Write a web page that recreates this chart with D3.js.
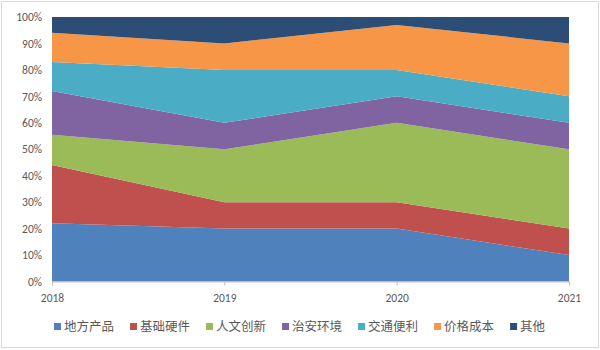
<!DOCTYPE html>
<html>
<head>
<meta charset="utf-8">
<script src="https://cdn.jsdelivr.net/npm/d3@7"></script>
<style>
  html, body { margin: 0; padding: 0; background: #fff; }
  svg { display: block; }
</style>
</head>
<body>
<svg id="chart" width="600" height="350"></svg>
<script>
// Years along the x axis
const years = ["2018", "2019", "2020", "2021"];
// Series names (stack order, bottom to top)
const seriesNames = ["地方产品", "基础硬件", "人文创新", "治安环境", "交通便利", "价格成本", "其他"];
// Share (%) of each series per year
const localProducts = [22, 20, 20, 10];
const infrastructure = [22, 10, 10, 10];
const cultureInnovation = [11.5, 20, 30, 30];
const publicSafety = [16.5, 10, 10, 10];
const transport = [11, 20, 10, 10];
const priceCost = [11, 10, 17, 20];
const others = [6, 10, 3, 10];
const seriesValues = [localProducts, infrastructure, cultureInnovation, publicSafety, transport, priceCost, others];
// Y axis tick values
const yTicks = [0, 10, 20, 30, 40, 50, 60, 70, 80, 90, 100];

const colors = ["#4F81BD", "#C0504D", "#9BBB59", "#8064A2", "#4BACC6", "#F79646", "#2C4D75"];

const svg = d3.select("#chart");
const W = 600, H = 350;
const margin = { left: 52, right: 31, top: 17, bottom: 68 };

// Outer chart frame
svg.append("rect")
  .attr("x", 1.5).attr("y", 1.5)
  .attr("width", W - 3).attr("height", H - 4)
  .attr("fill", "#fff").attr("stroke", "#d9d9d9");

const rows = years.map((y, i) => {
  const r = { year: y };
  seriesNames.forEach((s, k) => { r[s] = seriesValues[k][i]; });
  return r;
});

const x = d3.scalePoint().domain(years).range([margin.left, W - margin.right]);
const y = d3.scaleLinear().domain([0, 100]).range([H - margin.bottom - 0.5, margin.top]);

const stack = d3.stack().keys(seriesNames);
const layers = stack(rows);

const area = d3.area()
  .x(d => x(d.data.year))
  .y0(d => y(d[0]))
  .y1(d => y(d[1]));

svg.append("g").selectAll("path")
  .data(layers)
  .join("path")
  .attr("d", area)
  .attr("fill", (d, i) => colors[i]);

// Y axis labels
const yAxis = d3.axisLeft(y).tickValues(yTicks).tickFormat(d => d + "%").tickSize(0).tickPadding(10);
const gy = svg.append("g").attr("transform", `translate(${margin.left},0)`).call(yAxis);
gy.select(".domain").remove();
gy.selectAll("text")
  .attr("font-family", "Calibri, Carlito, 'Liberation Sans', sans-serif")
  .attr("font-size", 11.5).attr("fill", "#595959");

// X axis
const xAxis = d3.axisBottom(x).tickSize(4).tickPadding(8);
const gx = svg.append("g").attr("transform", `translate(0,${y(0)})`).call(xAxis);
gx.select(".domain").attr("stroke", "#bfbfbf");
gx.selectAll(".tick line").attr("stroke", "#bfbfbf");
gx.selectAll("text")
  .attr("font-family", "Calibri, Carlito, 'Liberation Sans', sans-serif")
  .attr("font-size", 11.5).attr("fill", "#595959");

// Legend
const legend = svg.append("g").attr("transform", "translate(54,327)");
let lx = 0;
seriesNames.forEach((name, i) => {
  const g = legend.append("g").attr("transform", `translate(${lx},0)`);
  g.append("rect").attr("x", 0).attr("y", -4).attr("width", 7).attr("height", 7).attr("fill", colors[i]);
  const t = g.append("text")
    .attr("x", 10).attr("y", 0)
    .attr("dy", "0.35em")
    .attr("font-family", "'Noto Sans CJK SC', sans-serif")
    .attr("font-size", 12.5).attr("fill", "#595959")
    .text(name);
  const w = t.node().getComputedTextLength();
  lx += 10 + w + 16;
});
</script>
</body>
</html>
